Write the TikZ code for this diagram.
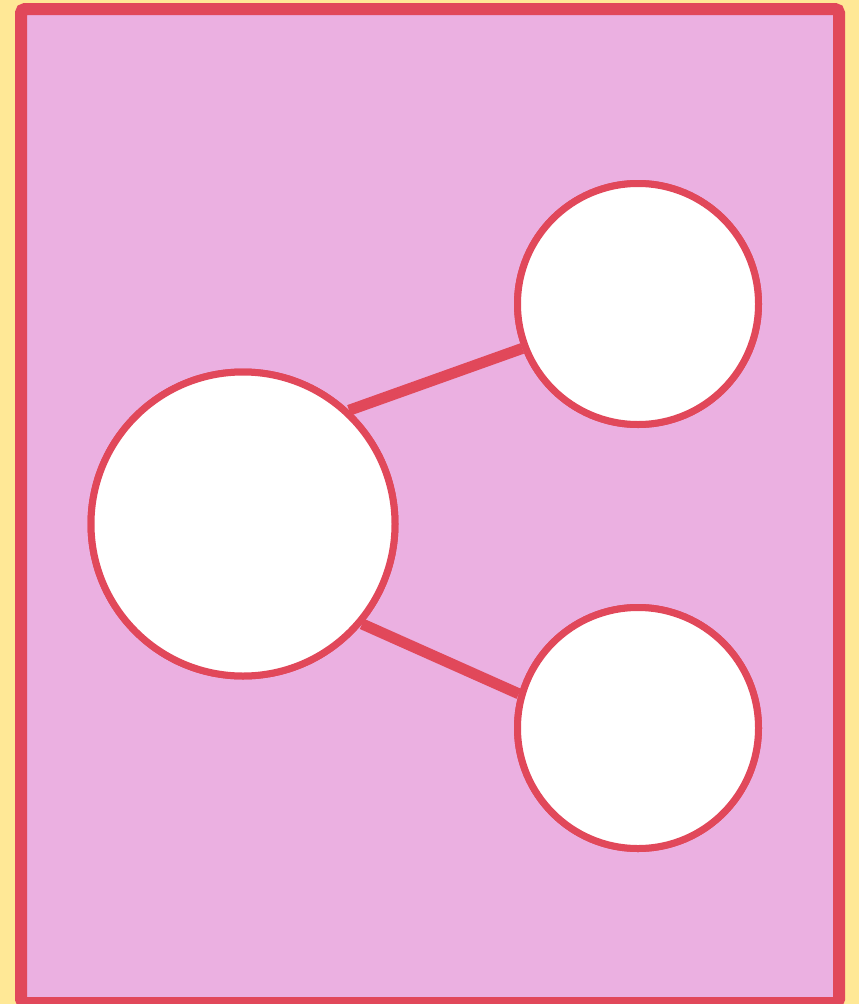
\documentclass[tikz,border=0pt]{standalone}
\definecolor{bgyellow}{RGB}{255,232,150}
\definecolor{panelpink}{RGB}{235,176,225}
\definecolor{edgered}{RGB}{225,72,90}
\begin{document}
\begin{tikzpicture}[x=1pt,y=-1pt,
  bignode/.style={circle,draw=edgered,fill=white,line width=7pt,inner sep=0pt,minimum size=304pt},
  smallnode/.style={circle,draw=edgered,fill=white,line width=7pt,inner sep=0pt,minimum size=241pt},
  link/.style={draw=edgered,line width=11pt}]
\useasboundingbox (0,0) rectangle (859,1004);
\fill[bgyellow] (0,0) rectangle (859,1004);
\draw[draw=edgered,fill=panelpink,line width=12pt,rounded corners=4pt] (21,9) rectangle (839,1003);
\node[bignode] (hub) at (243,524) {};
\node[smallnode] (top) at (638,304) {};
\node[smallnode] (bottom) at (638,728) {};
\draw[link] (hub.47) -- (top.201);
\draw[link] (hub.-40) -- (bottom.164);
\node[bignode] at (hub.center) {};
\node[smallnode] at (top.center) {};
\node[smallnode] at (bottom.center) {};
\end{tikzpicture}
\end{document}
